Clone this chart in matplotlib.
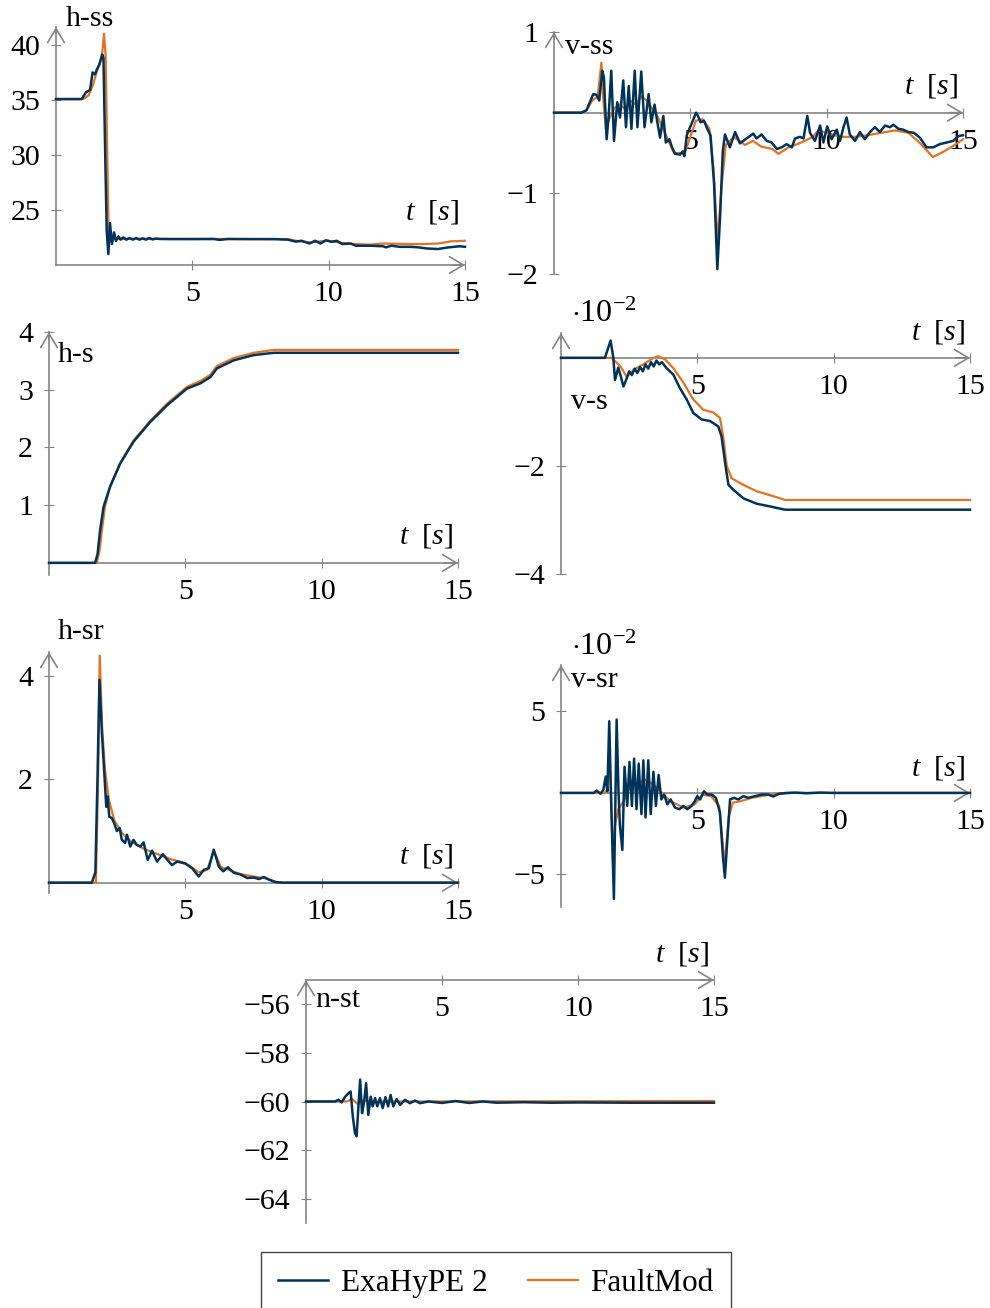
import matplotlib
matplotlib.use("Agg")
import matplotlib.pyplot as plt
from matplotlib.lines import Line2D

plt.rcParams.update({
    "font.family": ["Liberation Serif", "DejaVu Serif"],
    "font.size": 21,
    "mathtext.fontset": "custom",
    "mathtext.rm": "Liberation Serif",
    "mathtext.it": "Liberation Serif:italic",
    "mathtext.bf": "Liberation Serif:bold",
})

BLUE = "#003359"
ORANGE = "#E37222"
GRAY = "#858585"
W, H = 990, 1308
FS = 21.5

# ── data ─────────────────────────────────────────────────────────────────────
# h-ss
hss_t_exa = [0, 0.94, 1.1, 1.25, 1.34, 1.43, 1.49, 1.59, 1.7, 1.74, 1.8, 1.86, 1.92, 1.98, 2.05, 2.13,
             2.2, 2.29, 2.37, 2.47, 2.58, 2.7, 2.82, 2.94, 3.06, 3.18, 3.3, 3.42, 3.54, 3.66, 3.8, 4.2,
             5.0, 5.8, 6.0, 6.3, 7.0, 8.0, 8.5, 8.8, 9.0, 9.3, 9.5, 9.7, 9.9, 10.1, 10.3, 10.5, 10.8,
             11.0, 11.5, 12.0, 12.1, 12.3, 12.6, 13.0, 13.3, 13.6, 14.0, 14.4, 14.8, 15.0]
hss_exa = [35.06, 35.06, 35.67, 35.9, 37.48, 37.3, 37.7, 38.2, 39.1, 38.8, 30.66, 23.1, 21.0, 23.8, 21.9,
           22.96, 22.2, 22.6, 22.3, 22.5, 22.3, 22.45, 22.3, 22.45, 22.3, 22.42, 22.3, 22.45, 22.32, 22.4,
           22.36, 22.35, 22.35, 22.36, 22.28, 22.36, 22.35, 22.35, 22.3, 22.12, 22.2, 21.95, 22.2, 21.95,
           22.25, 22.1, 22.2, 21.9, 21.95, 21.75, 21.75, 21.7, 21.6, 21.75, 21.65, 21.65, 21.6, 21.5,
           21.45, 21.6, 21.7, 21.65]
hss_t_fm = [0, 1.0, 1.2, 1.35, 1.5, 1.6, 1.7, 1.76, 1.82, 1.88, 1.93, 1.98, 2.05, 2.15, 2.3, 8.5, 8.8,
            9.3, 9.7, 10.0, 10.5, 11.0, 11.5, 12.0, 13.0, 13.5, 14.0, 14.5, 15.0]
hss_fm = [35.06, 35.06, 35.4, 36.3, 37.6, 38.3, 39.3, 41.0, 39.0, 30.0, 23.0, 22.2, 22.5, 22.3, 22.38,
          22.35, 22.2, 22.05, 22.15, 22.2, 22.0, 21.9, 21.85, 21.95, 21.9, 21.9, 21.95, 22.15, 22.2]

# v-ss
vss_t_exa = [0, 1.01, 1.19, 1.44, 1.56, 1.66, 1.77, 1.83, 1.93, 2.0,
             2.1, 2.2, 2.32, 2.42, 2.54, 2.64, 2.74, 2.84, 2.96, 3.06,
             3.2, 3.32, 3.47, 3.57, 3.69, 3.79, 3.89, 4.01, 4.1, 4.23,
             4.33, 4.44, 4.62, 4.72, 4.78, 4.87, 4.99, 5.09, 5.21, 5.28,
             5.38, 5.5, 5.62, 5.74, 5.87, 5.99, 6.09, 6.19, 6.27, 6.45,
             6.64, 6.82, 7.06, 7.31, 7.43, 7.61, 7.8, 7.98, 8.17, 8.35,
             8.53, 8.72, 8.84, 9.02, 9.15, 9.29, 9.39, 9.57, 9.76, 9.88,
             10.02, 10.18, 10.37, 10.49, 10.61, 10.73, 10.85, 11.04, 11.22, 11.4,
             11.59, 11.77, 11.95, 12.14, 12.32, 12.45, 12.63, 12.8, 13.0, 13.2,
             13.42, 13.66, 13.91, 14.15, 14.4, 14.64, 14.83, 15.0]
vss_exa = [0, 0, 0.03, 0.23, 0.22, 0.15, 0.52, 0.44, -0.33, -0.06,
           0.52, -0.35, 0.13, -0.06, 0.40, -0.18, 0.33, -0.20, 0.52, -0.18,
           0.51, -0.18, 0.23, -0.12, 0.10, -0.12, -0.31, -0.04, -0.37, -0.33,
           -0.43, -0.51, -0.52, -0.48, -0.54, -0.28, -0.18, -0.10, 0.0, -0.04,
           -0.12, -0.10, -0.20, -0.28, -0.88, -1.94, -1.30, -0.48, -0.27, -0.43,
           -0.24, -0.38, -0.32, -0.26, -0.32, -0.27, -0.35, -0.37, -0.45, -0.43,
           -0.39, -0.43, -0.32, -0.30, -0.32, -0.04, -0.25, -0.35, -0.16, -0.37,
           -0.17, -0.33, -0.21, -0.35, -0.19, -0.06, -0.27, -0.35, -0.24, -0.33,
           -0.24, -0.18, -0.24, -0.16, -0.18, -0.15, -0.20, -0.21, -0.24, -0.25,
           -0.31, -0.43, -0.43, -0.39, -0.37, -0.35, -0.29, -0.28]
vss_t_fm = [0, 1.0, 1.2, 1.4, 1.6, 1.74, 1.8, 1.9, 2.0, 2.2, 2.4, 2.6, 2.8, 3.0, 3.2, 3.4, 3.6, 3.8,
            4.0, 4.2, 4.4, 4.6, 4.8, 5.0, 5.2, 5.45, 5.7, 5.85, 6.0, 6.15, 6.3, 6.6, 7.0, 7.3, 7.6,
            8.0, 8.23, 8.6, 9.0, 9.5, 9.7, 10.0, 10.5, 11.0, 11.5, 12.0, 12.5, 13.0, 13.4, 13.9,
            14.3, 14.7, 15.0]
vss_fm = [0, 0, 0.03, 0.15, 0.2, 0.62, 0.2, -0.2, -0.1, 0.05, 0.1, 0.05, 0.15, 0.1, 0.2, 0.15, 0.05,
          -0.05, -0.2, -0.35, -0.5, -0.5, -0.5, -0.3, -0.1, -0.08, -0.2, -0.7, -1.6, -0.9, -0.4, -0.3,
          -0.4, -0.35, -0.42, -0.45, -0.51, -0.43, -0.38, -0.3, -0.22, -0.25, -0.3, -0.3, -0.28,
          -0.25, -0.22, -0.25, -0.37, -0.55, -0.48, -0.4, -0.33]

# h-s
hs_t_exa = [0, 1.69, 1.78, 1.875, 2.0, 2.24, 2.61, 3.1, 3.71, 4.33, 5.06, 5.55, 5.92, 6.16, 6.78, 7.51,
            8.25, 15.0]
hs_exa = [0, 0, 0.15, 0.57, 0.97, 1.32, 1.72, 2.10, 2.44, 2.73, 3.02, 3.11, 3.22, 3.37, 3.51, 3.60,
          3.64, 3.64]
hs_t_fm = [0, 1.75, 1.85, 1.95, 2.05, 2.24, 2.61, 3.1, 3.71, 4.33, 5.06, 5.55, 5.92, 6.16, 6.78, 7.51,
           8.25, 15.0]
hs_fm = [0, 0, 0.2, 0.6, 0.97, 1.32, 1.73, 2.12, 2.46, 2.76, 3.05, 3.15, 3.26, 3.41, 3.55, 3.64, 3.69,
         3.69]

# v-s (x 1e-2)
vs_t_exa = [0, 1.61, 1.82, 1.92, 1.98, 2.1, 2.19, 2.29, 2.41, 2.5, 2.6, 2.7, 2.8, 2.9, 3.0, 3.1, 3.2,
            3.3, 3.4, 3.5, 3.6, 3.7, 3.87, 4.12, 4.36, 4.61, 4.85, 5.16, 5.47, 5.77, 5.89, 6.02, 6.14,
            6.32, 6.69, 7.18, 7.67, 8.22, 15.0]
vs_exa = [0, 0, 0.32, 0, -0.41, -0.18, -0.34, -0.53, -0.38, -0.25, -0.32, -0.2, -0.28, -0.17, -0.25,
          -0.12, -0.2, -0.08, -0.16, -0.05, -0.12, -0.08, -0.19, -0.31, -0.56, -0.77, -1.02, -1.14,
          -1.17, -1.27, -1.46, -1.95, -2.35, -2.44, -2.60, -2.70, -2.75, -2.81, -2.81]
vs_t_fm = [0, 1.85, 1.98, 2.17, 2.41, 2.66, 3.02, 3.39, 3.57, 3.82, 4.12, 4.49, 4.85, 5.22, 5.58, 5.83,
           5.95, 6.08, 6.26, 6.69, 7.18, 7.79, 8.22, 15.0]
vs_fm = [0, 0, -0.06, -0.15, -0.35, -0.22, -0.12, 0.0, 0.03, -0.03, -0.19, -0.46, -0.77, -0.96, -1.01,
         -1.11, -1.46, -2.0, -2.23, -2.35, -2.47, -2.56, -2.63, -2.63]

# h-sr
hsr_t_exa = [0, 1.57, 1.7, 1.78, 1.85, 1.94, 2.02, 2.10, 2.15, 2.21, 2.31, 2.39, 2.49, 2.59, 2.67, 2.79,
             2.86, 2.98, 3.10, 3.22, 3.35, 3.47, 3.62, 3.78, 3.96, 4.18, 4.33, 4.51, 4.7, 5.0, 5.25,
             5.49, 5.68, 5.86, 6.04, 6.23, 6.39, 6.56, 6.78, 7.02, 7.27, 7.51, 7.7, 7.88, 8.06, 8.31,
             8.6, 15.0]
hsr_exa = [0, 0, 0.2, 2.06, 3.93, 2.9, 2.2, 1.47, 1.67, 1.28, 1.25, 1.15, 1.0, 1.06, 0.83, 0.77, 0.93,
           0.70, 0.83, 0.73, 0.70, 0.78, 0.44, 0.62, 0.41, 0.55, 0.45, 0.34, 0.41, 0.37, 0.28, 0.12,
           0.25, 0.28, 0.64, 0.31, 0.22, 0.30, 0.19, 0.16, 0.09, 0.10, 0.07, 0.11, 0.06, 0.01, 0.0, 0.0]
hsr_t_fm = [0, 1.72, 1.8, 1.86, 1.95, 2.05, 2.2, 2.4, 2.7, 3.0, 3.5, 4.0, 4.5, 5.0, 5.5, 5.8, 6.05, 6.3,
            6.6, 7.0, 7.5, 8.0, 8.3, 8.5, 15.0]
hsr_fm = [0, 0, 2.0, 4.4, 3.0, 2.2, 1.6, 1.2, 0.95, 0.8, 0.65, 0.55, 0.45, 0.38, 0.2, 0.25, 0.62, 0.3,
          0.25, 0.17, 0.12, 0.08, 0.02, 0.0, 0.0]

# v-sr (x 1e-2)
vsr_t_exa = [0, 1.2, 1.3, 1.45, 1.55, 1.64, 1.7, 1.77, 1.83, 1.94,
             2.04, 2.11, 2.16, 2.25, 2.33, 2.43, 2.51, 2.6, 2.68, 2.77,
             2.85, 2.95, 3.02, 3.1, 3.2, 3.29, 3.39, 3.48, 3.58, 3.68,
             3.78, 3.9, 4.02, 4.18, 4.34, 4.49, 4.63, 4.79, 4.91, 5.0,
             5.1, 5.24, 5.37, 5.53, 5.68, 5.83, 5.93, 6.01, 6.1, 6.2,
             6.35, 6.5, 6.69, 6.87, 7.11, 7.36, 7.6, 7.78, 8.0, 8.27,
             8.6, 9.0, 9.5, 10.0, 15.0]
vsr_exa = [0, 0, 0.15, -0.05, 0.18, 1.0, 0.1, 4.4, 0, -6.5,
           4.5, 0, -2.0, -3.5, 1.6, -0.8, 1.9, -0.8, 2.1, -1.0,
           1.8, -1.3, 2.0, -1.5, 2.0, -1.3, 1.3, -0.8, 1.1, -0.4,
           -0.1, -0.7, -0.4, -0.9, -1.0, -0.8, -1.0, -0.8, -0.5, -0.2,
           -0.4, 0.1, -0.1, -0.1, -0.3, -1.2, -3.7, -5.2, -2.9, -0.4,
           -0.3, -0.4, -0.2, -0.3, -0.2, -0.1, -0.1, -0.22, -0.05, 0,
           0.02, -0.02, 0.02, 0, 0]
vsr_t_fm = [0, 1.6, 1.7, 1.77, 1.83, 1.9, 1.98, 2.1, 2.3, 2.5, 2.8, 3.1, 3.4, 3.7, 4.0, 4.5, 4.9, 5.2,
            5.5, 5.8, 5.9, 6.0, 6.15, 6.3, 6.6, 7.0, 7.5, 8.0, 8.5, 15.0]
vsr_fm = [0, 0, 0.2, 2.2, 0.5, -4.1, -2.0, -1.0, -0.5, 0.3, 0.6, 0.8, 0.5, 0.0, -0.5, -0.9, -0.7, -0.1,
          -0.2, -0.8, -2.5, -4.5, -1.5, -0.6, -0.5, -0.3, -0.15, -0.05, 0, 0]

# n-st
nst_t_exa = [0, 1.07, 1.19, 1.31, 1.43, 1.56, 1.64, 1.72, 1.8, 1.86,
             1.92, 1.99, 2.06, 2.13, 2.21, 2.29, 2.38, 2.45, 2.54, 2.62,
             2.72, 2.82, 2.92, 3.02, 3.11, 3.21, 3.33, 3.46, 3.64, 3.82,
             4.01, 4.19, 4.5, 5.0, 5.5, 6.0, 6.5, 7.0, 8.0, 9.0,
             10.0, 12.0, 15.0]
nst_exa = [-60, -60, -59.93, -60.04, -59.82, -59.66, -59.59, -60.61, -61.3, -61.43,
           -60.34, -59.1, -60.48, -60.07, -59.25, -60.55, -59.8, -60.2, -59.86, -60.2,
           -59.86, -60.27, -59.82, -60.2, -59.73, -60.2, -59.9, -60.14, -59.93, -60.07,
           -59.96, -60.07, -60.0, -60.06, -59.98, -60.06, -60.0, -60.05, -60.03, -60.05,
           -60.04, -60.05, -60.05]
nst_t_fm = [0, 1.5, 1.7, 1.9, 2.1, 2.4, 15.0]
nst_fm = [-60, -60, -59.9, -60.1, -59.95, -60.0, -59.98]

fig = plt.figure(figsize=(W / 100, H / 100), dpi=100)


def px(x, y):
    return x / W, 1 - y / H


def panel(x0, x1, ybot, ytop, ylim, xcross, yticks):
    ax = fig.add_axes([x0 / W, 1 - ybot / H, (x1 - x0) / W, (ybot - ytop) / H])
    ax.set_xlim(0, 15); ax.set_ylim(*ylim)
    for s in ("top", "right"):
        ax.spines[s].set_visible(False)
    ax.spines["left"].set_position(("data", 0))
    ax.spines["bottom"].set_position(("data", xcross))
    for s in ("left", "bottom"):
        ax.spines[s].set_color(GRAY); ax.spines[s].set_linewidth(1.2)
    ax.set_xticks([5, 10, 15]); ax.set_yticks(yticks)
    ax.tick_params(direction="inout", length=7, width=0.8, color=GRAY, pad=8,
                   labelsize=FS, labelcolor="black")
    ax.patch.set_alpha(0)
    arw = dict(arrowstyle="->,head_length=0.5,head_width=0.3", color=GRAY, lw=1.2,
               shrinkA=0, shrinkB=0, mutation_scale=20)
    ax.annotate("", xy=(15, xcross), xytext=(14.5, xcross), arrowprops=arw, annotation_clip=False)
    dy = (ylim[1] - ylim[0]) * 0.03
    ax.annotate("", xy=(0, ylim[1]), xytext=(0, ylim[1] - dy), arrowprops=arw, annotation_clip=False)
    return ax


def curves(ax, t_fm, y_fm, t_exa, y_exa):
    ax.plot(t_fm, y_fm, color=ORANGE, lw=1.6, clip_on=False, zorder=3)
    ax.plot(t_exa, y_exa, color=BLUE, lw=1.8, clip_on=False, zorder=4)


def label(x, y, s, size=FS):
    fig.text(*px(x, y), s, ha="left", va="baseline", fontsize=size)


TS = r"$t\ \ [s]$"

ax1 = panel(56, 465, 265, 27, (20, 41.6), 20, [25, 30, 35, 40])
curves(ax1, hss_t_fm, hss_fm, hss_t_exa, hss_exa)
label(66, 26, "h-ss"); label(405, 220, TS)

ax2 = panel(554, 963, 274, 32, (-2, 1), 0, [-2, -1, 1])
curves(ax2, vss_t_fm, vss_fm, vss_t_exa, vss_exa)
label(565, 54, "v-ss"); label(904, 93, TS)

ax3 = panel(49, 458, 575, 332, (-0.21, 4.0), 0, [1, 2, 3, 4])
curves(ax3, hs_t_fm, hs_fm, hs_t_exa, hs_exa)
label(58, 362, "h-s"); label(399, 543, TS)

ax4 = panel(561, 970, 574, 333, (-4, 0.46), 0, [-4, -2])
curves(ax4, vs_t_fm, vs_fm, vs_t_exa, vs_exa)
label(571, 322, r"$\cdot 10^{-2}$", 23); label(571, 409, "v-s"); label(911, 340, TS)

ax5 = panel(49, 458, 893, 652, (-0.2, 4.47), 0, [2, 4])
curves(ax5, hsr_t_fm, hsr_fm, hsr_t_exa, hsr_exa)
label(58, 639, "h-sr"); label(399, 863, TS)

ax6 = panel(561, 970, 907, 665, (-7.0, 7.85), 0, [-5, 5])
curves(ax6, vsr_t_fm, vsr_fm, vsr_t_exa, vsr_exa)
label(571, 655, r"$\cdot 10^{-2}$", 23); label(571, 687, "v-sr"); label(911, 775, TS)

ax7 = panel(306, 714, 1223, 980, (-65, -55), -55, [-56, -58, -60, -62, -64])
curves(ax7, nst_t_fm, nst_fm, nst_t_exa, nst_exa)
label(315, 1007, "n-st"); label(655, 962, TS)

handles = [Line2D([], [], color=BLUE, lw=1.8), Line2D([], [], color=ORANGE, lw=1.6)]
fig.legend(handles, ["ExaHyPE 2", "FaultMod"], loc="upper center", bbox_to_anchor=px(496, 1252),
           ncol=2, fontsize=22.5, frameon=True, fancybox=False, edgecolor="#444444",
           framealpha=1, handlelength=1.6, handletextpad=0.4, columnspacing=1.3, borderpad=0.55,
           borderaxespad=0)

fig.savefig("out.png", dpi=100)
